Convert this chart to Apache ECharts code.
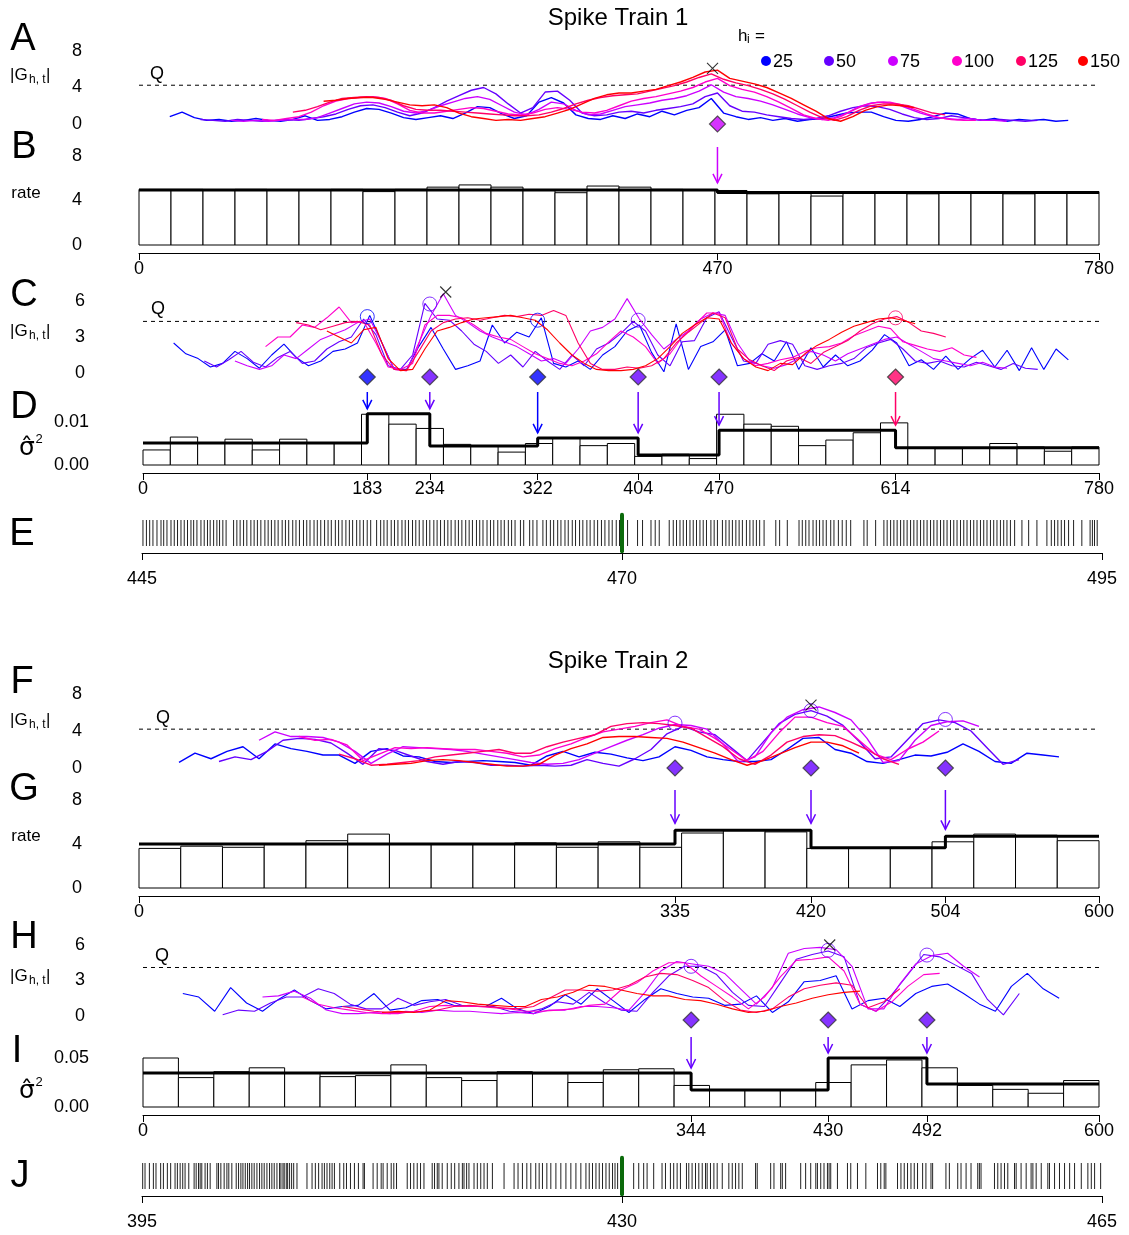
<!DOCTYPE html>
<html>
<head>
<meta charset="utf-8">
<script src="https://cdn.jsdelivr.net/npm/echarts@6/dist/echarts.min.js"></script>
<style>
html, body { margin: 0; background: #fff; }
#main { width: 1129px; height: 1235px; }
</style>
</head>
<body>
<div id="main"></div>
<script>
// bandwidths and their colours
var hValues = [25, 50, 75, 100, 125, 150];
var hColors = ['#0000FF', '#6600FF', '#CC00FF', '#FF00CC', '#FF0066', '#FF0000'];
var traceStep = 10; // traces sampled every 10 time units, starting at t = h

// ---- Spike train 1 (T = 780) ----
// panel A: |G| traces
var gA25 = [0.8,1.3,0.7,0.4,0.5,0.3,0.4,0.6,0.4,0.3,0.5,0.9,0.4,0.5,0.8,1.3,1.7,1.6,1.2,0.7,0.5,0.7,0.9,0.6,1.2,1.9,1.8,1.1,0.6,0.9,2.4,2.9,2.3,1.0,0.6,0.5,0.9,0.6,1.1,0.8,1.4,1.0,1.5,1.8,2.8,1.2,0.8,0.5,0.7,0.4,0.6,0.3,0.5,0.6,0.9,1.2,1.3,1.3,0.8,0.4,0.3,0.5,0.8,1.2,1.1,0.6,0.4,0.6,0.3,0.5,0.4,0.5,0.3,0.4];
var gA50 = [0.5,0.4,0.3,0.5,0.4,0.3,0.4,0.5,0.4,0.6,0.8,1.1,1.6,2.0,2.1,1.8,1.3,0.9,1.2,1.8,2.5,3.1,3.7,4.0,3.3,2.2,1.2,1.8,3.5,3.6,2.6,1.2,0.9,1.0,1.3,1.4,1.2,1.5,1.7,1.9,2.2,3.0,3.4,2.0,1.4,1.3,1.0,0.8,0.6,0.5,0.6,0.9,1.4,1.8,2.0,1.9,1.6,1.1,0.7,0.5,0.6,0.9,0.7,0.5,0.4,0.5,0.4,0.3,0.4];
var gA75 = [0.4,0.3,0.4,0.3,0.4,0.5,0.5,0.7,1.2,1.7,2.2,2.4,2.3,1.9,1.4,1.2,1.5,2.0,2.4,2.8,3.0,2.7,2.0,1.3,1.0,1.6,2.4,2.2,1.5,1.0,1.1,1.5,1.9,2.1,2.3,2.6,2.8,3.1,3.6,4.3,3.5,3.0,2.8,2.5,2.1,1.6,1.1,0.7,0.5,0.7,1.2,1.9,2.3,2.4,2.2,1.7,1.2,0.8,0.6,0.5,0.6,0.4,0.4,0.3];
var gA100 = [0.5,0.4,0.6,0.8,1.3,2.0,2.5,2.8,2.9,3.0,2.8,2.2,1.5,1.2,1.2,1.4,1.6,1.8,1.7,1.4,1.1,1.0,1.2,1.6,1.8,1.6,1.3,1.2,1.5,2.0,2.5,2.8,3.0,3.3,3.6,4.0,4.6,5.0,4.2,3.8,3.5,3.0,2.4,1.7,1.0,0.6,0.4,0.8,1.5,2.1,2.4,2.4,2.1,1.6,1.1,0.7,0.5,0.4,0.4];
var gA125 = [1.3,1.5,1.9,2.4,2.8,2.9,3.0,2.9,2.6,2.0,1.6,1.5,1.5,1.4,1.3,1.2,1.1,1.0,0.9,0.9,1.0,1.3,1.7,2.2,2.6,2.9,3.1,3.2,3.3,3.6,3.9,4.2,4.6,5.1,5.5,4.9,4.5,4.2,3.8,3.3,2.7,2.0,1.3,0.7,0.4,0.8,1.5,2.0,2.2,2.2,2.0,1.6,1.2,1.0];
var gA150 = [2.5,2.6,2.8,2.9,2.9,2.7,2.4,2.1,2.0,2.1,1.8,1.2,0.8,0.6,0.4,0.5,0.4,0.6,0.8,1.2,1.6,2.2,2.8,3.2,3.4,3.4,3.6,3.8,4.2,4.6,5.1,5.7,5.9,5.0,4.7,4.4,4.0,3.4,2.8,2.1,1.4,0.6,0.3,0.8,1.5,1.9,2.1,2.0,1.8];
var qA = 4.25;
var crossA = [466, 6.1];
var detA = [[470, 2]];               // [time, bandwidth index]

// panel B: rate histogram and fitted rate
var rateBinWidth1 = 26;
var rateBins1 = [5.0,5.0,4.9,5.0,4.9,4.9,5.0,4.8,5.0,5.2,5.4,5.2,4.9,4.7,5.3,5.2,5.0,4.9,4.9,4.6,4.8,4.4,4.7,4.7,4.6,4.8,4.7,4.6,4.7,4.8];
var rateChange1 = [0, 470, 780];
var rateLevel1 = [4.95, 4.72];

// panel C: |G| traces (variance statistic)
var gC25 = [2.5,1.6,1.2,0.5,0.8,1.8,1.2,0.4,1.5,2.4,1.3,0.6,1.0,1.8,2.0,2.5,4.8,2.5,0.3,0.3,2.2,3.8,2.0,0.3,0.6,1.0,4.0,2.5,3.4,3.0,4.6,0.8,0.5,1.0,0.3,1.5,2.2,3.5,4.0,1.7,0.1,4.1,0.3,2.2,2.6,3.6,0.6,0.8,1.6,1.0,2.6,0.3,2.1,0.5,1.5,0.6,1.0,1.9,3.2,2.5,0.6,1.1,0.3,1.4,0.3,1.2,1.9,0.5,1.9,0.2,2.1,0.3,2.0,1.1];
var gC50 = [1.0,0.5,1.1,1.8,0.9,0.5,1.3,1.8,0.8,1.0,2.0,2.6,3.0,4.5,3.2,0.6,0.3,1.5,5.8,4.5,4.4,3.5,2.4,1.8,0.8,1.5,0.5,1.8,1.0,0.3,1.5,0.6,2.0,2.5,3.3,4.3,3.5,1.5,0.6,2.6,2.7,4.6,5.1,3.0,1.0,0.8,2.4,2.7,2.4,0.6,0.3,0.6,0.8,1.2,2.1,2.5,2.8,2.0,1.0,0.8,1.0,0.6,0.5,0.9,0.6,0.3,0.8,0.4,0.3];
var gC75 = [1.0,0.6,0.3,0.6,1.5,1.2,2.0,2.8,3.2,3.6,4.2,4.5,2.5,0.3,0.2,2.5,4.8,6.6,4.8,4.2,3.5,3.0,2.6,2.2,1.6,1.0,1.2,0.8,2.0,3.5,3.8,4.5,6.2,4.5,3.2,2.0,2.8,3.5,4.5,5.0,4.8,2.5,1.0,0.6,0.4,0.7,1.2,1.8,1.5,1.0,1.6,2.0,2.4,2.8,3.0,2.4,1.8,1.2,1.0,0.8,0.6,0.9,0.5,0.4];
var gC100 = [2.2,3.0,3.0,4.0,3.8,4.6,5.5,4.2,4.3,2.5,0.5,0.3,0.8,4.0,4.8,4.8,4.6,4.0,3.3,3.0,2.8,2.2,1.6,1.2,0.8,0.6,1.0,1.6,2.6,3.5,3.0,2.2,0.8,1.6,3.0,4.0,5.0,5.0,2.5,1.2,0.6,0.8,1.1,1.3,1.8,2.1,2.2,2.5,3.1,3.5,3.9,3.7,2.6,2.3,2.0,1.8,2.1,1.5,1.3];
var gC125 = [4.2,4.0,3.6,3.9,4.2,4.3,4.0,1.5,0.3,0.2,1.8,3.5,4.2,4.5,4.6,4.4,4.6,4.8,4.7,4.9,4.8,5.2,4.8,2.5,0.8,0.3,0.3,0.5,0.4,0.6,1.2,2.5,3.4,4.2,5.0,4.6,2.0,1.1,0.6,0.2,1.0,1.3,0.8,1.7,2.2,2.7,3.5,4.1,4.5,4.7,4.2,3.5,3.3,3.0];
var gC150 = [3.5,3.0,2.5,3.6,3.8,1.2,0.2,0.3,2.0,3.5,3.8,4.2,4.5,4.6,4.7,4.8,4.6,4.4,3.6,2.5,1.5,0.8,0.3,0.2,0.2,0.3,0.6,1.2,2.2,3.3,4.0,4.6,4.5,2.5,1.2,0.5,0.2,0.8,0.7,1.6,2.3,2.8,3.4,3.9,4.2,4.5,4.6,4.4,4.1];
var qC = 4.3;
var crossC = [247, 6.75];
var detC = [[183, 0], [234, 1], [322, 0], [404, 1], [470, 1], [614, 4]];
var peaksC = [[183, 4.7, 0], [234, 5.75, 1], [322, 4.4, 0], [404, 4.4, 1], [614, 4.6, 4]];

// panel D: variance histogram and fitted variance
var varBinWidth1 = 780 / 35;
var varBins1 = [0.0035,0.0065,0.005,0.006,0.0035,0.006,0.005,0.005,0.0118,0.0095,0.0085,0.0048,0.0045,0.003,0.005,0.0063,0.0045,0.005,0.002,0.0025,0.0015,0.0118,0.0095,0.009,0.0045,0.0058,0.0075,0.0098,0.004,0.0038,0.004,0.005,0.0042,0.0032,0.0042];
var varChange1 = [0, 183, 234, 322, 404, 470, 614, 780];
var varLevel1 = [0.0051, 0.0119, 0.0044, 0.0063, 0.0023, 0.0081, 0.0040];

// panel E: spikes around t = 470
var windowE = [445, 495];
var markE = 470;
var spikesE = [445.05,445.23,445.40,445.57,445.78,445.99,446.13,446.30,446.51,446.68,446.85,447.03,447.20,447.37,447.55,447.69,447.86,448.07,448.24,448.41,448.55,448.73,448.90,449.04,449.21,449.38,449.77,449.94,450.11,450.29,450.46,450.67,450.84,451.01,451.19,451.40,451.57,451.74,451.92,452.09,452.30,452.47,452.64,452.85,453.02,453.20,453.41,453.58,453.75,453.96,454.13,454.31,454.51,454.69,454.86,455.07,455.24,455.42,455.62,455.80,455.97,456.18,456.35,456.53,456.73,456.91,457.22,457.43,457.60,457.77,457.98,458.15,458.33,458.54,458.71,458.88,459.09,459.26,459.44,459.64,459.82,459.99,460.20,460.37,460.55,460.75,460.93,461.10,461.31,461.48,461.66,461.86,462.04,462.21,462.42,462.59,462.76,462.97,463.15,463.32,463.53,463.70,463.87,464.08,464.25,464.43,464.71,464.88,465.19,465.36,465.57,465.88,466.06,466.27,466.44,466.65,466.82,467.03,467.20,467.41,467.58,467.79,467.96,468.17,468.34,468.55,468.73,468.93,469.11,469.32,469.49,469.70,469.87,
  470.29,470.81,471.07,471.51,471.73,471.94,472.46,472.67,472.84,473.02,473.19,473.36,473.54,473.71,473.88,474.06,474.23,474.40,474.63,474.80,474.97,475.23,475.41,475.58,475.75,475.93,476.10,476.27,476.48,476.66,476.83,477.00,477.17,477.40,478.01,478.21,478.61,479.22,479.39,479.57,479.74,479.95,480.12,480.29,480.47,480.64,480.87,481.04,481.27,481.47,481.68,481.91,482.60,482.77,483.21,483.64,483.81,483.99,484.16,484.33,484.51,484.68,484.85,485.03,485.20,485.37,485.55,485.72,485.89,486.07,486.24,486.41,486.59,486.76,486.93,487.11,487.28,487.45,487.63,487.80,487.97,488.15,488.32,488.49,488.67,488.84,489.01,489.19,489.36,489.53,489.71,489.88,490.05,490.23,490.45,490.83,491.18,491.61,492.13,492.36,492.53,492.70,492.88,493.05,493.26,493.52,493.95,494.38,494.50,494.61,494.75];

// ---- Spike train 2 (T = 600) ----
// panel F
var gF25 = [0.6,1.6,1.0,1.8,2.3,1.0,2.6,2.1,1.8,1.4,1.4,0.5,1.8,2.1,1.3,1.2,0.7,0.6,0.7,0.8,0.7,0.6,0.3,1.3,1.8,1.2,1.7,1.5,1.1,0.8,1.2,2.3,1.9,1.2,0.9,0.7,0.7,0.9,2.0,3.2,3.3,2.0,1.6,0.7,0.5,0.9,1.4,1.3,1.7,2.6,1.8,0.7,0.5,1.6,1.4,1.2];
var gF50 = [0.7,1.2,0.9,1.8,3.0,3.2,3.1,2.7,1.6,0.4,2.1,1.9,1.3,0.7,0.4,0.7,0.6,0.3,0.3,0.2,0.3,0.2,0.3,0.9,0.5,0.2,1.0,2.0,3.7,4.5,3.9,3.6,2.2,0.8,2.8,4.8,5.8,6.2,5.6,4.6,2.9,1.0,1.2,3.0,4.8,5.2,4.9,4.0,2.2,0.4,0.9];
var gF75 = [3.0,3.9,3.4,3.4,3.3,2.8,1.8,0.5,1.5,2.3,2.2,2.1,2.0,1.8,1.5,1.2,0.9,0.6,0.4,0.5,0.9,1.6,2.3,3.0,3.6,4.3,4.7,4.6,4.2,2.6,0.6,1.2,3.8,5.5,6.3,6.6,6.0,5.2,3.2,0.6,0.8,3.0,4.6,5.0,5.1,4.5];
var gF100 = [3.4,3.0,3.1,2.5,0.8,1.5,2.2,2.1,2.2,2.1,2.0,2.0,1.8,1.6,1.2,1.4,2.1,2.6,3.3,3.9,4.2,4.5,4.9,5.2,4.5,4.2,3.2,2.0,0.8,1.8,3.8,5.5,5.5,4.9,4.5,3.0,1.5,0.9,2.0,2.8,4.0];
var gF125 = [1.5,1.0,0.3,0.4,0.6,0.8,1.2,1.4,1.6,1.8,2.0,1.6,1.6,2.3,2.8,3.2,3.6,4.5,4.8,4.9,4.8,4.6,4.3,3.3,2.3,1.0,0.4,1.4,2.8,3.4,3.6,3.5,2.8,2.0,1.0,0.4];
var gF150 = [0.3,0.4,0.5,0.8,0.9,0.8,0.6,0.4,0.2,0.2,0.4,1.4,2.1,2.6,3.3,3.4,3.4,3.3,3.2,2.8,2.2,1.6,0.9,0.3,0.8,1.5,2.2,2.8,2.8,2.4,1.6];
var qF = 4.2;
var crossF = [420, 6.8];
var detF = [[335, 1], [420, 1], [504, 1]];
var peaksF = [[335, 4.85, 1], [420, 6.2, 1], [504, 5.25, 1]];

// panel G
var rateBinWidth2 = 600 / 23;
var rateBins2 = [3.6,3.8,3.7,4.0,4.3,4.9,4.0,4.0,4.0,4.1,3.7,4.2,3.7,5.0,5.3,5.1,3.6,3.6,3.7,4.2,4.9,4.8,4.3];
var rateChange2 = [0, 335, 420, 504, 600];
var rateLevel2 = [4.0, 5.25, 3.65, 4.7];

// panel H
var gH25 = [1.9,1.6,0.4,2.4,1.1,0.4,1.4,2.2,1.3,0.6,0.8,0.9,1.9,0.5,0.7,1.3,1.4,0.9,0.8,0.8,1.5,0.6,0.2,0.8,1.8,1.0,2.3,1.3,0.3,1.4,2.3,1.9,1.6,1.5,0.9,1.0,1.7,0.3,1.2,2.9,3.0,3.4,0.6,1.3,1.5,0.8,1.9,2.5,2.7,1.9,1.0,0.4,2.5,3.6,2.3,1.5];
var gH50 = [0.1,0.5,0.4,1.1,1.6,1.6,2.3,1.9,1.0,0.6,0.6,1.5,0.9,1.2,1.4,0.9,0.8,0.8,0.4,0.3,0.6,1.2,1.0,2.0,1.1,0.5,0.4,2.0,3.4,4.2,4.2,3.5,2.0,0.9,0.8,2.8,4.8,5.2,5.5,5.0,1.0,0.4,1.8,3.5,5.2,5.0,4.3,3.6,1.4,0.1,1.9];
var gH75 = [1.6,1.7,2.1,1.5,0.5,0.2,0.2,0.3,0.2,0.4,0.3,0.5,0.4,0.4,0.3,0.2,0.3,0.2,0.5,0.5,0.8,0.8,0.7,0.5,2.0,3.8,4.6,4.4,4.2,3.6,2.3,1.0,2.4,5.3,5.7,5.8,5.6,4.2,0.6,0.6,2.7,4.4,5.1,5.3,4.2,3.3];
var gH100 = [1.6,1.0,0.7,0.5,0.3,0.2,0.2,0.4,0.8,0.9,0.8,0.8,0.7,0.6,0.4,0.4,0.5,0.6,0.9,1.0,2.2,2.8,3.8,4.5,4.5,3.4,2.5,1.6,0.6,1.6,3.3,4.7,4.8,5.0,3.8,1.0,0.4,1.2,2.5,3.5,3.6];
var gH125 = [0.8,0.6,0.4,0.3,0.3,0.4,0.5,0.8,0.9,0.8,0.7,0.6,0.8,1.5,2.2,2.2,2.1,2.2,2.6,3.3,3.6,3.5,3.0,2.4,1.3,0.5,0.3,0.6,1.6,2.3,2.6,2.8,2.6,0.7,1.2,2.3];
var gH150 = [0.3,0.4,0.3,0.5,1.3,1.2,1.0,0.9,0.8,0.8,1.4,1.6,2.0,2.6,2.5,2.2,1.9,1.7,1.7,1.4,1.3,1.0,0.6,0.3,0.4,0.8,1.1,1.5,1.8,2.0,2.1];
var qH = 4.1;
var crossH = [431, 6.0];
var detH = [[344, 1], [430, 1], [492, 1]];
var peaksH = [[344, 4.2, 1], [430, 5.55, 1], [492, 5.15, 1]];

// panel I
var varBinWidth2 = 600 / 27;
var varBins2 = [0.050,0.030,0.036,0.040,0.035,0.031,0.032,0.043,0.030,0.027,0.036,0.034,0.025,0.038,0.039,0.022,0.017,0.017,0.017,0.025,0.043,0.048,0.040,0.022,0.018,0.014,0.027];
var varChange2 = [0, 344, 430, 492, 600];
var varLevel2 = [0.0347, 0.0173, 0.050, 0.0235];

// panel J
var windowJ = [395, 465];
var markJ = 430;
var spikesJ = [395.05,395.22,395.54,395.83,396.02,396.36,396.56,396.85,397.09,397.41,397.58,397.78,397.97,398.14,398.41,398.80,398.95,399.12,399.24,399.36,399.60,399.77,399.97,400.46,400.58,400.75,400.99,401.19,401.33,401.55,401.87,402.04,402.21,402.36,402.53,402.70,402.84,403.01,403.18,403.38,403.57,403.74,403.91,404.11,404.30,404.47,404.64,404.84,405.03,405.13,405.28,405.37,405.52,405.62,405.76,405.91,406.06,406.30,407.03,407.40,407.64,407.88,408.13,408.30,408.49,408.69,408.86,409.03,409.42,409.71,409.91,410.20,410.49,410.78,411.12,411.22,411.85,412.15,412.44,412.58,412.88,413.17,413.36,413.56,414.34,414.58,414.82,415.07,415.31,415.56,416.16,416.33,416.53,416.65,416.89,417.26,417.55,417.80,418.11,418.36,418.48,418.67,418.84,419.21,419.45,419.70,419.94,420.18,420.55,421.40,422.13,422.42,422.74,423.06,423.35,423.71,423.96,424.20,424.52,424.81,425.18,425.54,425.91,426.27,426.64,427.00,427.37,427.61,427.85,428.10,428.34,428.58,428.83,429.07,429.31,429.49,429.68,
  430.85,431.22,431.58,431.83,432.31,432.92,433.17,433.53,433.77,434.02,434.26,434.70,434.87,435.11,435.36,435.60,435.85,436.09,436.21,436.45,436.70,436.94,437.31,437.79,438.04,438.28,438.52,438.77,439.74,439.86,440.84,441.08,441.57,441.69,441.93,443.03,443.39,443.76,444.13,444.25,444.49,444.73,444.98,445.10,445.22,445.71,446.44,446.68,447.17,447.78,448.63,448.87,449.12,449.24,450.09,450.34,450.58,450.82,451.07,451.31,451.55,451.92,452.16,452.53,452.65,453.62,453.87,454.48,454.72,455.09,455.45,455.94,456.06,456.18,457.16,457.40,457.64,457.89,458.13,458.62,458.74,459.10,459.47,459.83,459.96,460.20,460.57,461.05,461.17,461.54,461.90,462.27,462.64,463.00,463.49,463.97,464.22,464.46,464.90];

// ---------------------------------------------------------------
var FONT = '"Liberation Sans", Arial, Helvetica, sans-serif';
var chart = echarts.init(document.getElementById('main'));

// panel boxes [left, top, width, height] in px
var boxes = [
  [139, 51, 960, 73],    // A
  [139, 156, 960, 89],   // B
  [143, 301, 956, 72],   // C
  [143, 422, 956, 43],   // D
  [142, 520, 960, 26],   // E
  [139, 694, 960, 74],   // F
  [139, 800, 960, 88],   // G
  [143, 945, 956, 71],   // H
  [143, 1058, 956, 49],  // I
  [142, 1163, 960, 26]   // J
];

function xAx(g, min, max, ticks, offset, margin) {
  return {
    gridIndex: g, type: 'value', min: min, max: max, show: !!ticks, offset: offset || 0,
    axisLine: { show: true, onZero: false, lineStyle: { color: '#000', width: 1 } },
    axisTick: { show: true, length: 7, customValues: ticks || [], lineStyle: { color: '#000' } },
    axisLabel: { show: true, customValues: ticks || [], margin: margin || 8, fontSize: 18, color: '#000', fontFamily: FONT },
    splitLine: { show: false }
  };
}
// y axes: labels only (no axis line in the reference)
function yAx(g, min, max, ticks, digits, margin) {
  return {
    gridIndex: g, type: 'value', min: min, max: max, show: !!ticks,
    axisLine: { show: false },
    axisTick: { show: false },
    axisLabel: {
      show: true, customValues: ticks || [], margin: margin || 57, fontSize: 18, color: '#000', fontFamily: FONT,
      formatter: function (v) { return digits ? v.toFixed(digits) : String(v); }
    },
    splitLine: { show: false }
  };
}

var grids = boxes.map(function (b) {
  return { left: b[0], top: b[1], width: b[2], height: b[3], containLabel: false };
});

var xAxes = [
  xAx(0, 0, 780), xAx(1, 0, 780, rateChange1, 8, 7),
  xAx(2, 0, 780), xAx(3, 0, 780, varChange1, 8, 7),
  xAx(4, windowE[0], windowE[1], [windowE[0], markE, windowE[1]], 7, 17),
  xAx(5, 0, 600), xAx(6, 0, 600, rateChange2, 8, 7),
  xAx(7, 0, 600), xAx(8, 0, 600, varChange2, 8, 7),
  xAx(9, windowJ[0], windowJ[1], [windowJ[0], markJ, windowJ[1]], 7, 17)
];
var yAxes = [
  yAx(0, 0, 8, [0, 4, 8], 0, 57), yAx(1, 0, 8, [0, 4, 8], 0, 57),
  yAx(2, 0, 6, [0, 3, 6], 0, 58), yAx(3, 0, 0.01, [0, 0.01], 2, 54),
  yAx(4, 0, 1),
  yAx(5, 0, 8, [0, 4, 8], 0, 57), yAx(6, 0, 8, [0, 4, 8], 0, 57),
  yAx(7, 0, 6, [0, 3, 6], 0, 58), yAx(8, 0, 0.05, [0, 0.05], 2, 54),
  yAx(9, 0, 1)
];

var series = [];

function tracePoints(h, vals) {
  return vals.map(function (v, i) { return [h + i * traceStep, v]; });
}
function addTraces(g, sets, T, q, lw) {
  series.push({
    type: 'line', xAxisIndex: g, yAxisIndex: g, data: [[0, q], [T, q]], showSymbol: false, silent: true,
    lineStyle: { color: '#000', width: 1, type: [4, 4] }, z: 1
  });
  sets.forEach(function (vals, k) {
    series.push({
      type: 'line', xAxisIndex: g, yAxisIndex: g, data: tracePoints(hValues[k], vals),
      showSymbol: false, silent: true, clip: false, z: 2,
      lineStyle: { color: hColors[k], width: lw }
    });
  });
}
function addMarkers(g, det, peaks, cross, dOffset) {
  series.push({
    type: 'scatter', xAxisIndex: g, yAxisIndex: g, clip: false, silent: true, z: 4,
    symbol: 'circle', symbolSize: 14,
    data: peaks.map(function (p) {
      return { value: [p[0], p[1]], itemStyle: { color: 'rgba(0,0,0,0)', borderColor: hColors[p[2]], borderWidth: 1 } };
    })
  });
  series.push({
    type: 'scatter', xAxisIndex: g, yAxisIndex: g, clip: false, silent: true, z: 4,
    symbol: 'path://M0,0L10,10M10,0L0,10', symbolSize: 11,
    itemStyle: { color: 'rgba(0,0,0,0)', borderColor: '#000', borderWidth: 1.1 },
    data: [cross]
  });
  series.push({
    type: 'scatter', xAxisIndex: g, yAxisIndex: g, clip: false, silent: true, z: 5,
    symbol: 'diamond', symbolSize: [16, 16], symbolOffset: [0, dOffset],
    data: det.map(function (d) {
      return { value: [d[0], 0], itemStyle: { color: hColors[d[1]], borderColor: '#333', borderWidth: 1.2 } };
    })
  });
}
function stepData(changes, levels) {
  var out = [];
  for (var i = 0; i < levels.length; i++) out.push([changes[i], levels[i]]);
  out.push([changes[changes.length - 1], levels[levels.length - 1]]);
  return out;
}
function addHistogram(g, binWidth, bins, changes, levels) {
  series.push({
    type: 'custom', xAxisIndex: g, yAxisIndex: g, clip: false, silent: true, z: 2,
    data: bins.map(function (v, i) { return [i * binWidth, (i + 1) * binWidth, v]; }),
    renderItem: function (params, api) {
      var p0 = api.coord([api.value(0), api.value(2)]);
      var p1 = api.coord([api.value(1), 0]);
      return {
        type: 'rect',
        shape: { x: p0[0], y: p0[1], width: p1[0] - p0[0], height: p1[1] - p0[1] },
        style: { fill: '#fff', stroke: '#000', lineWidth: 1 }
      };
    }
  });
  series.push({
    type: 'line', xAxisIndex: g, yAxisIndex: g, step: 'end', data: stepData(changes, levels),
    showSymbol: false, silent: true, clip: false, z: 3,
    lineStyle: { color: '#000', width: 3 }
  });
}
function addArrows(g, det, changes, levels, yMax, startGap, tipGap) {
  var items = det.map(function (d) {
    var i = changes.indexOf(d[0]);
    return [d[0], Math.max(levels[i - 1], levels[i]), d[1]];
  });
  series.push({
    type: 'custom', xAxisIndex: g, yAxisIndex: g, clip: false, silent: true, z: 6, data: items,
    renderItem: function (params, api) {
      var x = api.coord([api.value(0), 0])[0];
      var y0 = api.coord([api.value(0), yMax])[1] - startGap;
      var y1 = api.coord([api.value(0), api.value(1)])[1] - tipGap;
      var c = hColors[api.value(2)];
      return {
        type: 'group', children: [
          { type: 'line', shape: { x1: x, y1: y0, x2: x, y2: y1 }, style: { stroke: c, lineWidth: 1.5 } },
          { type: 'polyline', shape: { points: [[x - 4.5, y1 - 9], [x, y1], [x + 4.5, y1 - 9]] }, style: { stroke: c, lineWidth: 1.5, fill: null } }
        ]
      };
    }
  });
}
function addSpikes(g, times, mark) {
  series.push({
    type: 'custom', xAxisIndex: g, yAxisIndex: g, clip: false, silent: true, z: 2,
    data: times.map(function (t) { return [t]; }),
    renderItem: function (params, api) {
      var a = api.coord([api.value(0), 0]);
      var b = api.coord([api.value(0), 1]);
      return { type: 'line', shape: { x1: a[0], y1: a[1], x2: b[0], y2: b[1] }, style: { stroke: '#222', lineWidth: 1 } };
    }
  });
  series.push({
    type: 'custom', xAxisIndex: g, yAxisIndex: g, clip: false, silent: true, z: 3,
    data: [[mark]],
    renderItem: function (params, api) {
      var a = api.coord([api.value(0), -0.2]);
      var b = api.coord([api.value(0), 1.2]);
      return { type: 'line', shape: { x1: a[0], y1: a[1], x2: b[0], y2: b[1] }, style: { stroke: '#0b6a0b', lineWidth: 4, lineCap: 'round' } };
    }
  });
}

// Spike train 1
addTraces(0, [gA25, gA50, gA75, gA100, gA125, gA150], 780, qA, 1.4);
addMarkers(0, detA, [], crossA, 0);
addHistogram(1, rateBinWidth1, rateBins1, rateChange1, rateLevel1);
addArrows(1, detA, rateChange1, rateLevel1, 8, 9, 7);
addTraces(2, [gC25, gC50, gC75, gC100, gC125, gC150], 780, qC, 1.1);
addMarkers(2, detC, peaksC, crossC, 4);
addHistogram(3, varBinWidth1, varBins1, varChange1, varLevel1);
addArrows(3, detC, varChange1, varLevel1, 0.01, 30, 5);
addSpikes(4, spikesE, markE);
// Spike train 2
addTraces(5, [gF25, gF50, gF75, gF100, gF125, gF150], 600, qF, 1.4);
addMarkers(5, detF, peaksF, crossF, 0);
addHistogram(6, rateBinWidth2, rateBins2, rateChange2, rateLevel2);
addArrows(6, detF, rateChange2, rateLevel2, 8, 10, 7);
addTraces(7, [gH25, gH50, gH75, gH100, gH125, gH150], 600, qH, 1.1);
addMarkers(7, detH, peaksH, crossH, 4);
addHistogram(8, varBinWidth2, varBins2, varChange2, varLevel2);
addArrows(8, detH, varChange2, varLevel2, 0.05, 21, 5);
addSpikes(9, spikesJ, markJ);

// ---- text and legend ----
function txt(s, x, y, size, align, extra) {
  var st = { text: s, fontSize: size, fontFamily: FONT, fill: '#000',
    align: align || 'center', verticalAlign: 'middle', textAlign: align || 'center', textVerticalAlign: 'middle' };
  if (extra) for (var k in extra) st[k] = extra[k];
  return { type: 'text', x: x, y: y, silent: true, style: st };
}
var graphics = [];
[['A', 23, 40], ['B', 24, 148], ['C', 24, 296], ['D', 24, 408], ['E', 22, 535],
 ['F', 22, 683], ['G', 24, 790], ['H', 24, 938], ['I', 17, 1052], ['J', 20, 1177]].forEach(function (p) {
  graphics.push(txt(p[0], p[1], p[2], 38));
});
graphics.push(txt('Spike Train 1', 618, 18, 24));
graphics.push(txt('Spike Train 2', 618, 661, 24));
[75, 331, 720, 976].forEach(function (y) {
  graphics.push(txt('|G', 10, y, 17, 'left'));
  graphics.push(txt('h, t', 29, y + 5, 12, 'left'));
  graphics.push(txt('|', 46, y, 17, 'left'));
});
[193, 836].forEach(function (y) { graphics.push(txt('rate', 26, y, 17)); });
[448, 1091].forEach(function (y) {
  graphics.push(txt('\u03C3\u0302', 27, y, 25, 'center', { fontFamily: '"DejaVu Sans", sans-serif' }));
  graphics.push(txt('2', 39, y - 9, 13));
});
[[157, 74], [158, 309], [163, 718], [162, 956]].forEach(function (p) { graphics.push(txt('Q', p[0], p[1], 18)); });
// legend
graphics.push(txt('h', 738, 36, 17, 'left'));
graphics.push(txt('i', 747, 40, 12, 'left'));
graphics.push(txt('=', 755, 36, 17, 'left'));
var legendX = [766, 829, 893, 957, 1021, 1083];
hValues.forEach(function (h, k) {
  graphics.push({ type: 'circle', silent: true, shape: { cx: legendX[k], cy: 61, r: 5 }, style: { fill: hColors[k] } });
  graphics.push(txt(String(h), legendX[k] + 7, 62, 18, 'left'));
});

chart.setOption({
  animation: false,
  backgroundColor: '#fff',
  grid: grids,
  xAxis: xAxes,
  yAxis: yAxes,
  series: series,
  graphic: graphics
});
</script>
</body>
</html>
